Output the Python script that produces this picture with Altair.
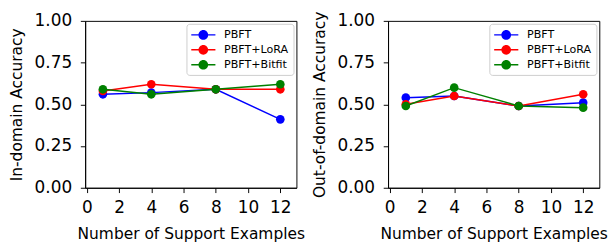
import altair as alt
import pandas as pd

x_vals = [1, 4, 8, 12]
series_names = ["PBFT", "PBFT+LoRA", "PBFT+Bitfit"]
series_colors = ["#0000ff", "#ff0000", "#008000"]

pbft_in = [0.56, 0.57, 0.59, 0.41]
lora_in = [0.58, 0.62, 0.59, 0.59]
bitfit_in = [0.59, 0.56, 0.59, 0.62]

pbft_out = [0.54, 0.55, 0.49, 0.51]
lora_out = [0.50, 0.55, 0.49, 0.56]
bitfit_out = [0.49, 0.60, 0.49, 0.48]

x_ticks = [0, 2, 4, 6, 8, 10, 12]
y_ticks = [0.0, 0.25, 0.5, 0.75, 1.0]


def make_df(values_list):
    rows = []
    for name, vals in zip(series_names, values_list):
        for x, v in zip(x_vals, vals):
            rows.append({"x": x, "acc": v, "series": name})
    return pd.DataFrame(rows)


df_in = make_df([pbft_in, lora_in, bitfit_in])
df_out = make_df([pbft_out, lora_out, bitfit_out])

SYMBOL = ("M-1,-0.115L0.16,-0.115L0.16,0.115L-1,0.115Z "
          "M1.68,-0.115L2.85,-0.115L2.85,0.115L1.68,0.115Z "
          "M1.69,0A0.77,0.77,0,1,1,0.15,0A0.77,0.77,0,1,1,1.69,0Z")

color_scale = alt.Scale(domain=series_names, range=series_colors)
legend = alt.Legend(
    title=None,
    orient="top-right",
    offset=3,
    symbolType=SYMBOL,
    symbolSize=169,
    symbolStrokeWidth=0,
    labelOffset=21,
    labelFontSize=11.5,
    labelFont="DejaVu Sans",
    labelColor="black",
    rowPadding=3.5,
    padding=5,
    fillColor="white",
    strokeColor="#cccccc",
    cornerRadius=3,
)


def panel(df, ytitle):
    xenc = alt.X("x:Q", title="Number of Support Examples",
                 scale=alt.Scale(domain=[-0.1, 13.0], nice=False, zero=False),
                 axis=alt.Axis(values=x_ticks, format="d"))
    yenc = alt.Y("acc:Q", title=ytitle,
                 scale=alt.Scale(domain=[0, 1], nice=False),
                 axis=alt.Axis(values=y_ticks, format=".2f"))
    layers = []
    for name in series_names:
        base = alt.Chart(df).transform_filter(alt.datum.series == name)
        cenc = alt.Color("series:N", scale=color_scale, legend=legend)
        layers.append(base.mark_line(strokeWidth=1.5).encode(x=xenc, y=yenc, color=cenc))
        layers.append(base.mark_point(filled=True, size=80, opacity=1).encode(
            x=xenc, y=yenc, color=cenc))
    return alt.layer(*layers).properties(width=219, height=173)


left = panel(df_in, "In-domain Accuracy")
right = panel(df_out, "Out-of-domain Accuracy")

chart = alt.hconcat(left, right, spacing=6).resolve_legend(color="independent").configure(
    padding={"left": 0, "top": -2, "right": 0, "bottom": 0},
    font="DejaVu Sans",
).configure_view(
    stroke="black", strokeWidth=1
).configure_axis(
    grid=False,
    domainColor="black",
    domainWidth=1,
    tickColor="black",
    tickSize=5,
    tickWidth=1,
    labelFont="DejaVu Sans",
    labelFontSize=17.5,
    labelColor="black",
    titleFont="DejaVu Sans",
    titleFontSize=16,
    titleFontWeight="normal",
    titleColor="black",
).configure_axisY(
    labelPadding=9,
    titlePadding=10,
).configure_axisX(
    labelPadding=7,
    titlePadding=10,
)

chart.save("out.html", embed_options={"renderer": "svg", "actions": False})
